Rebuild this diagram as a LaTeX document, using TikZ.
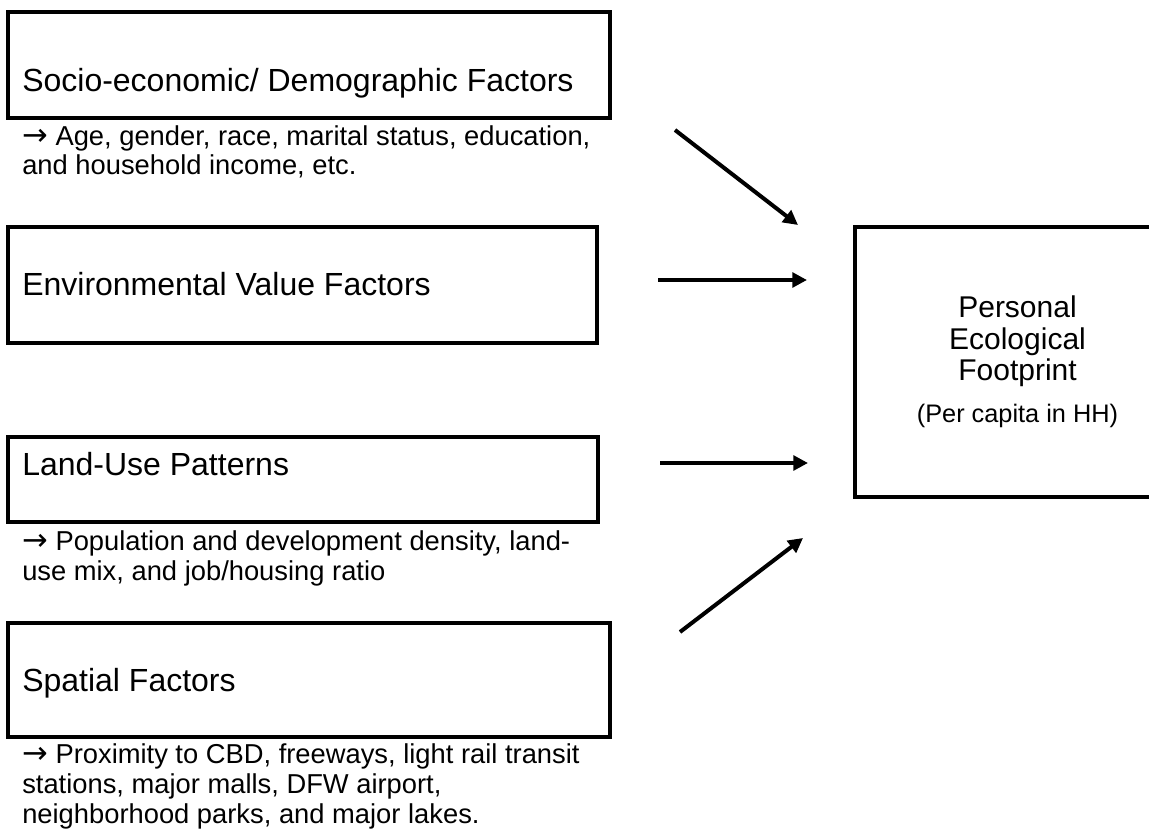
\documentclass[tikz,border=0pt]{standalone}
\usepackage{fontspec}
\setmainfont{Liberation Sans}
\newfontfamily\arrowfont{DejaVu Sans}
\usetikzlibrary{arrows.meta,positioning,calc}

\begin{document}
\begin{tikzpicture}[x=0.75pt,y=-0.75pt]
\tikzstyle{factorBox}=[draw=black,line width=3pt,inner sep=0pt,outer sep=0pt]
\tikzstyle{boxTitle}=[anchor=base west,inner sep=0pt,font=\fontsize{24}{28}\selectfont]
\tikzstyle{annot}=[anchor=base west,inner sep=0pt,align=left,font=\fontsize{20.5}{22.3}\selectfont]
\tikzstyle{myEdge}=[line width=3pt,-{Triangle[length=11pt,width=11pt]}]

\newcommand{\factorbox}[5]{
\node[factorBox,anchor=north west,minimum width=#4,minimum height=#5] (#1) at (#2,#3) {};
}
\newcommand{\pointer}{{\arrowfont\fontsize{23}{22}\selectfont →}}

\clip (0,0) rectangle (1149,831);

% the four groups of factors
\factorbox{socio}{8}{12}{451.5pt}{79.5pt}
\factorbox{value}{8}{227}{441.75pt}{87pt}
\factorbox{landuse}{8}{437}{442.5pt}{63.75pt}
\factorbox{spatial}{8}{623}{451.5pt}{85.5pt}

\node[boxTitle] (socioTitle) at (22,92) {Socio-economic/ Demographic Factors};
\node[boxTitle] (valueTitle) at (22,295) {Environmental Value Factors};
\node[boxTitle] (landuseTitle) at (22,475) {Land-Use Patterns};
\node[boxTitle] (spatialTitle) at (22,691) {Spatial Factors};

% base of a multi-line node = last line
\node[annot] (socioNote) at (22,175) {\pointer\ Age, gender, race, marital status, education,\\and household income, etc.};
\node[annot] (landuseNote) at (22,580) {\pointer\ Population and development density, land-\\use mix, and job/housing ratio};
\node[annot] (spatialNote) at (22,823) {\pointer\ Proximity to CBD, freeways, light rail transit\\stations, major malls, DFW airport,\\neighborhood parks, and major lakes.};

% outcome
\node[factorBox,anchor=north west,minimum width=243.75pt,minimum height=202.5pt,
  align=center,font=\fontsize{22.5}{23.6}\selectfont] (footprint) at (855,227)
  {Personal\\Ecological\\Footprint\\[8pt]{\fontsize{19}{22}\selectfont(Per capita in HH)}};

% arrows
\foreach \name/\sx/\sy/\ex/\ey in {socio/675/130/798/225,value/658/280/807/280,
    landuse/660/463/808/463,spatial/680/632/803/538}{
\coordinate (\name Tail) at (\sx,\sy);
\coordinate (\name Head) at (\ex,\ey);
}
\foreach \name in {socio,value,landuse,spatial}
    \draw[myEdge] (\name Tail) -- (\name Head);
\end{tikzpicture}
\end{document}
